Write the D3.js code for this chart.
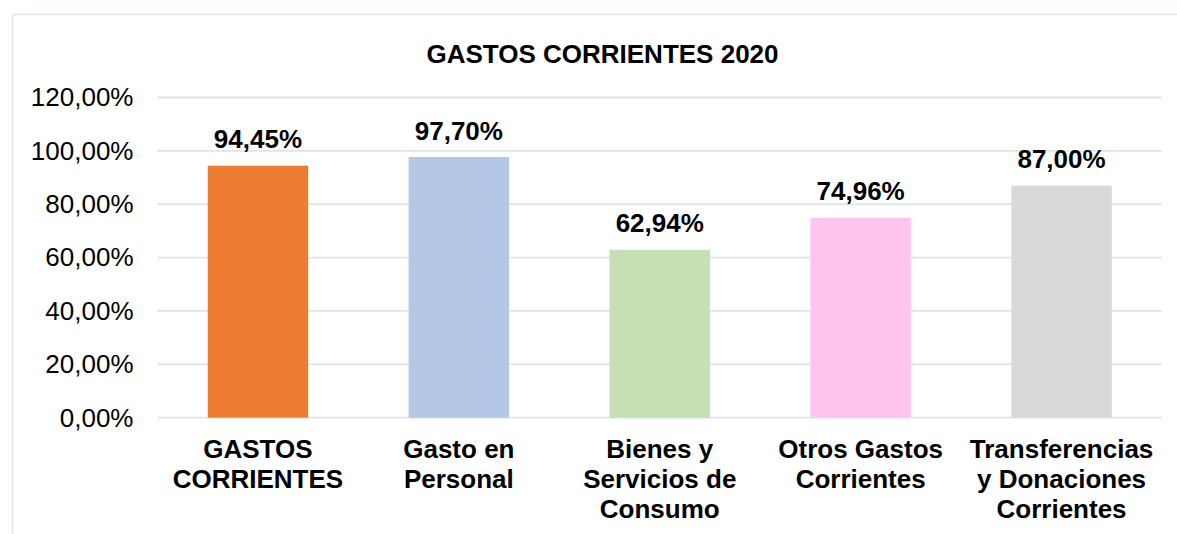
<!DOCTYPE html>
<html>
<head>
<meta charset="utf-8">
<script src="https://cdn.jsdelivr.net/npm/d3@7"></script>
<style>
  html, body { margin: 0; padding: 0; background: #fff; }
  svg { display: block; font-family: "Liberation Sans", Arial, sans-serif; }
</style>
</head>
<body>
<div class="displayArea"></div>
<script>
// Data
const categories = [
    ["GASTOS", "CORRIENTES"],
    ["Gasto en", "Personal"],
    ["Bienes y", "Servicios de", "Consumo"],
    ["Otros Gastos", "Corrientes"],
    ["Transferencias", "y Donaciones", "Corrientes"]
];
const values = [94.45, 97.70, 62.94, 74.96, 87.00];
const barColours = ["#ED7D31", "#B4C7E7", "#C5E0B4", "#FFC5F0", "#D9D9D9"];
const yTicks = [0, 20, 40, 60, 80, 100, 120];
const chartTitle = "GASTOS CORRIENTES 2020";

const width = 1177,
    height = 534,
    plotLeft = 157.5,
    plotRight = 1162,
    plotTop = 97.5,
    plotBottom = 417.7;

const fmt = v => d3.format(".2f")(v).replace(".", ",") + "%";

const svg = d3.select(".displayArea")
    .append("svg")
    .attr("width", width)
    .attr("height", height);

// chart border
svg.append("rect")
    .attr("x", 12.5)
    .attr("y", 14.5)
    .attr("width", width)
    .attr("height", height)
    .attr("fill", "none")
    .attr("stroke", "#E0E3E8")
    .attr("stroke-width", 1.5);

const xScale = d3.scaleBand()
    .domain(d3.range(values.length))
    .range([plotLeft, plotRight])
    .paddingInner(0.5)
    .paddingOuter(0.25);

const yScale = d3.scaleLinear()
    .domain([0, 120])
    .range([plotBottom, plotTop]);

// gridlines
svg.append("g")
    .selectAll("line")
    .data(yTicks)
    .enter()
    .append("line")
    .attr("x1", plotLeft)
    .attr("x2", plotRight)
    .attr("y1", d => yScale(d))
    .attr("y2", d => yScale(d))
    .attr("stroke", "#E1E4EA")
    .attr("stroke-width", 1.8);

// y axis labels
const yAxis = d3.axisLeft(yScale)
    .tickValues(yTicks)
    .tickFormat(fmt)
    .tickSize(0)
    .tickPadding(24);

svg.append("g")
    .attr("class", "yAxis")
    .attr("transform", `translate(${plotLeft},0)`)
    .call(yAxis)
    .call(g => g.select(".domain").remove())
    .call(g => g.selectAll("text")
        .attr("font-family", "'Liberation Sans', Arial, sans-serif")
        .attr("font-size", 26)
        .attr("fill", "#000"));

// bars
svg.append("g")
    .selectAll("rect")
    .data(values)
    .enter()
    .append("rect")
    .attr("x", (d, i) => xScale(i))
    .attr("y", d => yScale(d))
    .attr("width", xScale.bandwidth())
    .attr("height", d => plotBottom - yScale(d))
    .attr("fill", (d, i) => barColours[i]);

// value labels
svg.append("g")
    .selectAll("text")
    .data(values)
    .enter()
    .append("text")
    .attr("x", (d, i) => xScale(i) + xScale.bandwidth() / 2)
    .attr("y", d => yScale(d) - 17.5)
    .attr("text-anchor", "middle")
    .attr("font-size", 26)
    .attr("font-weight", "bold")
    .attr("fill", "#000")
    .text(d => fmt(d));

// category labels
const cat = svg.append("g")
    .selectAll("text")
    .data(categories)
    .enter()
    .append("text")
    .attr("text-anchor", "middle")
    .attr("font-size", 26)
    .attr("font-weight", "bold")
    .attr("fill", "#000");

cat.selectAll("tspan")
    .data((d, i) => d.map(line => ({line, i})))
    .enter()
    .append("tspan")
    .attr("x", d => xScale(d.i) + xScale.bandwidth() / 2)
    .attr("y", (d, j) => 458 + j * 30)
    .text(d => d.line);

// title
svg.append("text")
    .attr("x", 602.5)
    .attr("y", 62.5)
    .attr("text-anchor", "middle")
    .attr("font-size", 26)
    .attr("font-weight", "bold")
    .attr("fill", "#000")
    .text(chartTitle);
</script>
</body>
</html>
